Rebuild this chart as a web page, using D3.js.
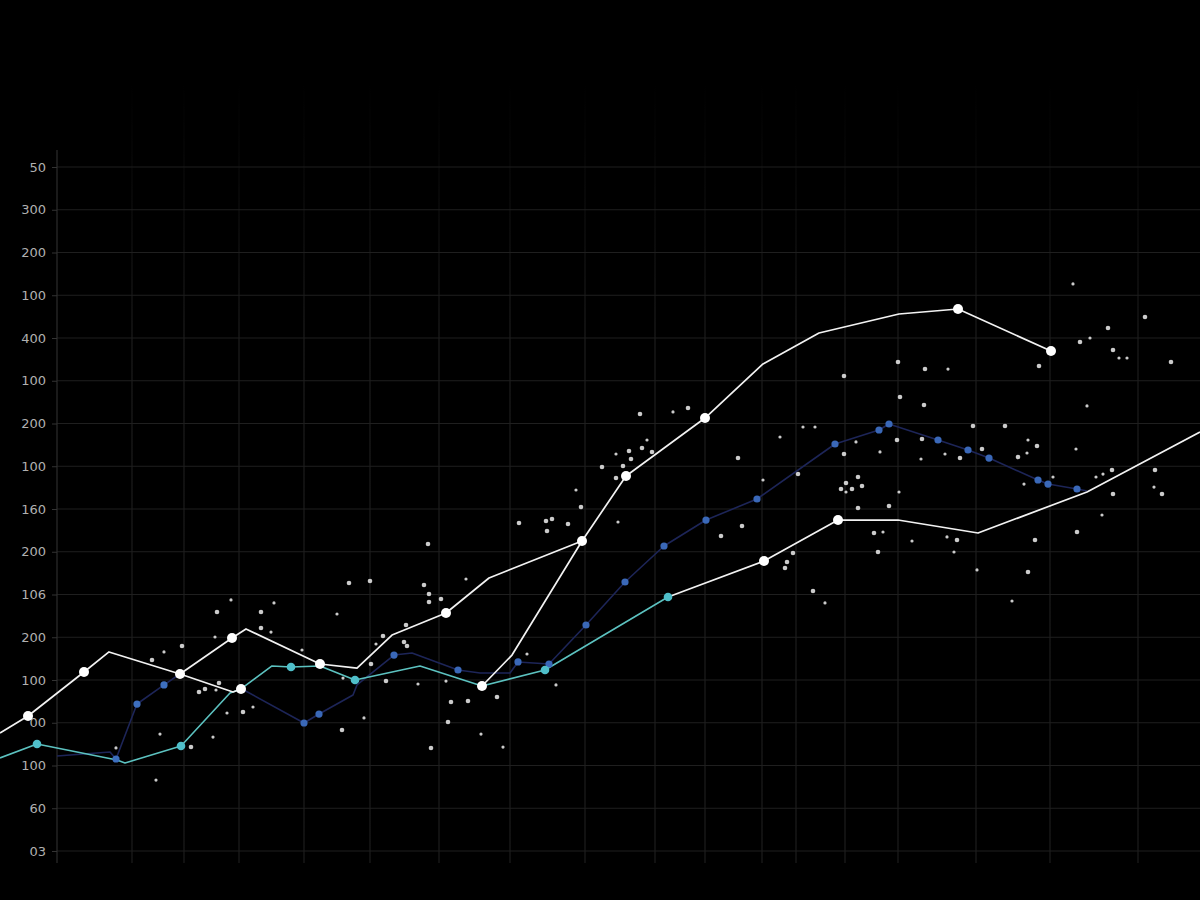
<!DOCTYPE html>
<html>
<head>
<meta charset="utf-8">
<script src="https://cdn.jsdelivr.net/npm/d3@7"></script>
<style>
  html, body { margin: 0; padding: 0; background: #000; }
  svg { display: block; }
</style>
</head>
<body>
<svg id="chart" width="1200" height="900"></svg>
<script>
// ---------- DATA ----------
// y tick labels, bottom to top (as printed on the reference)
const yTickLabels = ["03","60","100","00","100","200","106","200","160","100","200","100","400","100","200","300","50"];
const yTickValues = [0,50,100,150,200,250,300,350,400,450,500,550,600,650,700,750,800];
// positions of the vertical grid lines (x units)
const xGrid = [5.7,13.2,18.4,23.9,30.4,37.0,43.9,51.0,58.5,65.5,70.5,76.2,79.6,84.5,89.8,97.6,105.0,113.8];

// line series: [x, y, marker(0/1)]
const whiteA = [[0,138.0,0],[2.8,157.9,1],[8.4,209.4,1],[10.9,232.8,0],[18.0,207.0,1],[23.3,186.0,0],[24.1,189.5,1]];
const whiteB = [[18.0,207.0,0],[23.2,249.1,1],[24.6,259.7,0],[32.0,218.7,1],[35.7,214.0,0],[39.2,252.6,0],[44.6,278.4,1],[48.9,319.3,0],[58.2,362.6,0]];
const whiteC = [[48.2,193.0,1],[51.2,229.2,0],[58.2,362.6,1],[62.6,438.6,1],[70.5,506.4,1],[76.3,569.6,0],[81.9,605.9,0],[89.9,628.1,0],[95.8,633.9,1],[105.1,584.8,1]];
const tealA = [[0,108.8,0],[3.7,125.1,1],[11.7,106.4,0],[12.5,102.9,0],[18.1,122.8,1],[23.0,184.8,0],[24.1,189.5,0],[27.2,216.4,0],[29.1,215.2,1],[32.0,216.4,0],[35.5,200.0,1],[42.0,216.4,0],[48.2,193.0,0],[54.5,211.7,1],[66.8,297.1,1]];
const whiteD = [[66.8,297.1,0],[76.4,339.2,1],[83.8,387.1,1],[89.8,387.1,0],[97.8,371.9,0],[108.7,419.9,0],[120.0,490.1,0]];
const navyA = [[5.7,111.1,0],[11.0,115.8,0],[11.6,107.6,1],[13.7,171.9,1],[16.4,194.2,1],[18.0,207.0,0]];
const navyB = [[24.2,189.5,0],[30.4,149.7,1],[31.9,160.2,1],[35.3,182.5,0],[35.7,194.2,0],[39.4,229.2,1],[41.2,231.6,0],[45.8,211.7,1],[48.0,208.2,0],[51.0,208.2,0],[51.8,221.1,1],[54.9,218.7,1],[58.6,264.3,1],[62.5,314.6,1],[66.4,356.7,1],[70.6,387.1,1],[75.7,411.7,1],[83.5,476.0,1],[87.9,492.4,1],[88.9,499.4,1],[93.8,480.7,1],[96.8,469.0,1],[98.9,459.6,1],[103.8,433.9,1],[104.8,429.2,1],[107.7,423.4,1],[108.7,421.1,0]];

// scattered dots: [x, y, sizeClass]
const dots = [
[34.9,313.5,2],[37.0,315.8,2],[23.1,293.6,1],[27.4,290.1,1],[21.7,279.5,2],[26.1,279.5,2],[33.7,277.2,1],[18.2,239.8,2],[26.1,260.8,2],[27.1,256.1,1],
[21.5,250.3,1],[16.4,232.8,1],[15.2,223.4,2],[30.2,235.1,1],[38.3,251.5,2],[37.6,242.1,1],[37.1,218.7,2],[34.3,202.3,1],[38.6,198.8,2],[21.9,196.5,2],
[20.5,189.5,2],[19.9,186.0,2],[21.6,188.3,1],[22.7,161.4,1],[24.3,162.6,2],[25.3,168.4,1],[36.4,155.6,1],[34.2,141.5,2],[16.0,136.8,1],[21.3,133.3,1],
[19.1,121.6,2],[11.6,120.5,1],[15.6,83.0,1],[58.1,402.3,2],[61.8,384.8,1],[51.9,383.6,2],[54.6,386.0,2],[55.2,388.3,2],[56.8,382.5,2],[54.7,374.3,2],
[74.2,380.1,2],[72.1,368.4,2],[42.8,359.1,2],[46.6,318.1,1],[42.4,311.1,2],[42.9,300.6,2],[42.9,291.2,2],[44.1,294.7,2],[40.6,264.3,2],[40.4,244.4,2],
[40.7,239.8,2],[52.7,230.4,1],[41.8,195.3,1],[44.6,198.8,1],[55.6,194.2,1],[49.7,180.1,2],[45.1,174.3,2],[46.8,175.4,2],[44.8,150.9,2],[48.1,136.8,1],
[43.1,120.5,2],[50.3,121.6,1],[68.8,518.1,2],[67.3,513.5,1],[64.0,511.1,2],[80.3,495.9,1],[81.5,495.9,1],[78.0,484.2,1],[64.7,480.7,1],[65.2,466.7,2],
[61.6,464.3,1],[62.9,467.8,2],[64.2,471.3,2],[60.2,449.1,2],[62.3,450.3,2],[63.1,458.5,2],[61.6,436.3,2],[57.6,422.2,1],[73.8,459.6,2],[84.4,555.6,2],
[89.8,571.9,2],[92.5,563.7,2],[94.8,563.7,1],[90.0,531.0,2],[92.4,521.6,2],[85.6,478.4,1],[89.7,480.7,2],[92.2,481.9,2],[84.4,464.3,2],[88.0,466.7,1],
[92.1,458.5,1],[94.5,464.3,1],[96.0,459.6,2],[98.2,470.2,2],[85.8,437.4,2],[84.6,430.4,2],[84.1,423.4,2],[85.2,423.4,2],[86.2,426.9,2],[84.6,419.9,1],
[89.9,419.9,1],[76.3,433.9,1],[79.8,440.9,2],[85.8,401.2,2],[88.9,403.5,2],[87.4,371.9,2],[88.3,373.1,1],[87.8,349.7,2],[91.2,362.6,1],[94.7,367.3,1],
[95.7,363.7,2],[95.4,349.7,1],[97.7,328.7,1],[103.5,363.7,2],[107.7,373.1,2],[110.2,393.0,1],[102.8,326.3,2],[101.2,292.4,1],[81.3,304.1,2],[82.5,290.1,1],
[78.7,338.0,2],[78.5,331.0,2],[79.3,348.5,2],[107.3,663.2,1],[114.5,624.6,2],[110.8,611.7,2],[108.0,595.3,2],[109.0,600.0,1],[111.3,586.0,2],[111.9,576.6,1],
[112.7,576.6,1],[117.1,571.9,2],[103.9,567.3,2],[108.7,520.5,1],[100.5,497.1,2],[97.3,497.1,2],[102.8,480.7,1],[103.7,473.7,2],[101.8,460.8,2],[102.7,465.5,1],
[107.6,470.2,1],[105.3,437.4,1],[102.4,429.2,1],[109.6,437.4,1],[110.3,440.9,1],[111.2,445.6,2],[115.5,445.6,2],[115.4,425.7,1],[111.3,417.5,2],[116.2,417.5,2]
];

// ---------- SCALES ----------
const svg = d3.select("#chart");
const x = d3.scaleLinear().domain([0, 120]).range([0, 1200]);
const y = d3.scaleLinear().domain([0, 800]).range([851, 167]);
const dotR = d3.scaleOrdinal().domain([1,2,3]).range([1.6, 2.3, 2.8]);

// background
svg.append("rect").attr("width", 1200).attr("height", 900).attr("fill", "#000");

// gradient for vertical grid lines (fade at top)
const defs = svg.append("defs");
const grad = defs.append("linearGradient").attr("id", "vfade")
  .attr("gradientUnits", "userSpaceOnUse")
  .attr("x1", 0).attr("y1", y(900)).attr("x2", 0).attr("y2", y(600));
grad.append("stop").attr("offset", "0%").attr("stop-color", "#1a1a1a").attr("stop-opacity", 0);
grad.append("stop").attr("offset", "100%").attr("stop-color", "#1c1c1c").attr("stop-opacity", 1);

// vertical grid
svg.append("g").selectAll("line").data(xGrid.slice(1)).join("line")
  .attr("x1", d => x(d)).attr("x2", d => x(d))
  .attr("y1", y(924)).attr("y2", y(-14))
  .attr("stroke", "url(#vfade)").attr("stroke-width", 1.2);

// horizontal grid
svg.append("g").selectAll("line").data(yTickValues).join("line")
  .attr("x1", x(xGrid[0])).attr("x2", x(120))
  .attr("y1", d => y(d)).attr("y2", d => y(d))
  .attr("stroke", "#1f1f1f").attr("stroke-width", 1.2);

// y axis line
svg.append("line")
  .attr("x1", x(xGrid[0])).attr("x2", x(xGrid[0]))
  .attr("y1", y(820)).attr("y2", y(-14))
  .attr("stroke", "#2c2c2c").attr("stroke-width", 1.2);

// y axis
const yAxis = d3.axisLeft(y).tickValues(yTickValues)
  .tickFormat((d, i) => yTickLabels[i]).tickSize(5).tickSizeOuter(0).tickPadding(6);
const ga = svg.append("g").attr("transform", `translate(${x(xGrid[0])},0)`).call(yAxis);
ga.select(".domain").remove();
ga.selectAll(".tick line").attr("stroke", "#333");
ga.selectAll(".tick text").attr("fill", "#b0b0b0")
  .style("font-family", "'DejaVu Sans', sans-serif").style("font-size", "13px");

// scatter dots
svg.append("g").selectAll("circle").data(dots).join("circle")
  .attr("cx", d => x(d[0])).attr("cy", d => y(d[1]))
  .attr("r", d => dotR(d[2]))
  .attr("fill", "#dcdcdc").attr("opacity", 0.92);

// lines
const line = d3.line().x(d => x(d[0])).y(d => y(d[1]));
const series = [
  {data: navyA, stroke: "#1d2558", w: 1.6, mark: "#3d6fbf", r: 3.6},
  {data: navyB, stroke: "#1d2558", w: 1.6, mark: "#3a68b8", r: 3.6},
  {data: tealA, stroke: "#5cc2c0", w: 1.6, mark: "#4fbfca", r: 4.3},
  {data: whiteA, stroke: "#f2f2f2", w: 1.7, mark: "#ffffff", r: 5},
  {data: whiteB, stroke: "#f2f2f2", w: 1.7, mark: "#ffffff", r: 5},
  {data: whiteC, stroke: "#f2f2f2", w: 1.7, mark: "#ffffff", r: 5},
  {data: whiteD, stroke: "#f2f2f2", w: 1.7, mark: "#ffffff", r: 5}
];
series.forEach(s => {
  svg.append("path").datum(s.data).attr("d", line)
    .attr("fill", "none").attr("stroke", s.stroke).attr("stroke-width", s.w)
    .attr("stroke-linejoin", "round");
});
series.forEach(s => {
  svg.append("g").selectAll("circle").data(s.data.filter(d => d[2] === 1)).join("circle")
    .attr("cx", d => x(d[0])).attr("cy", d => y(d[1]))
    .attr("r", s.r).attr("fill", s.mark);
});
</script>
</body>
</html>
